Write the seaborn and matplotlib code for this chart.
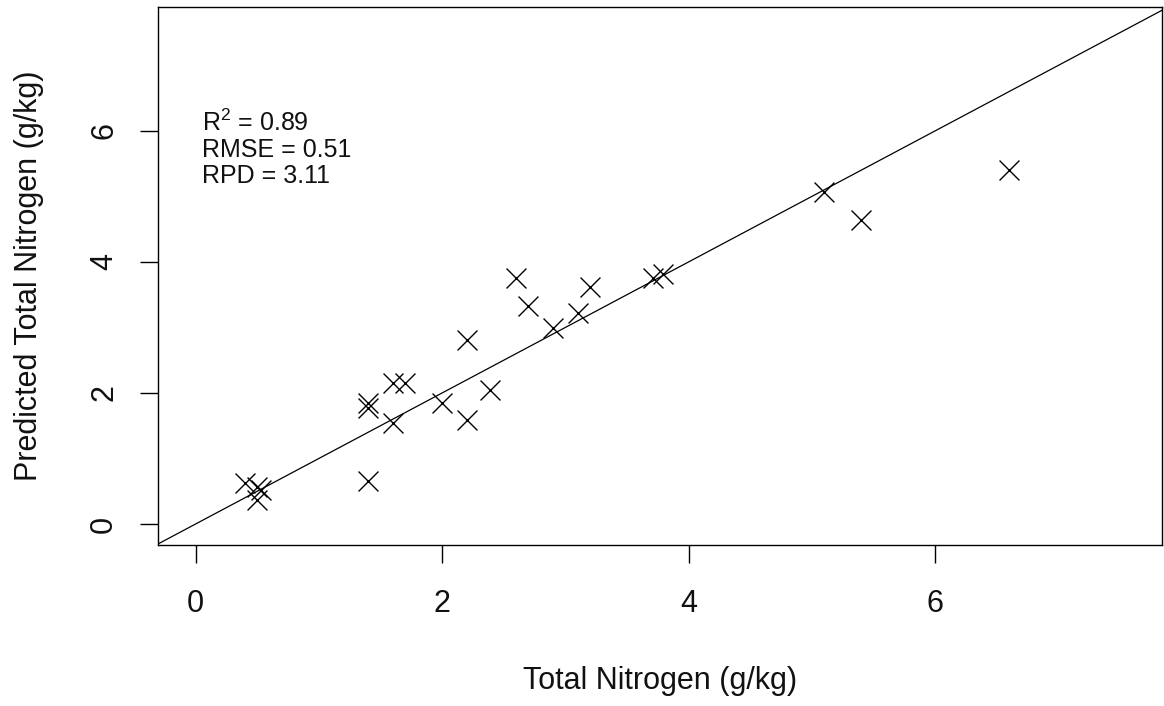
import matplotlib
matplotlib.use("Agg")
import matplotlib.pyplot as plt
import seaborn as sns
import pandas as pd

# ---- data ----
measured_tn = [0.40, 0.50, 0.53, 0.50, 1.40, 1.40, 1.40, 1.60, 1.70, 1.60,
               2.00, 2.20, 2.39, 2.20, 2.60, 2.70, 2.90, 3.10, 3.20, 3.71,
               3.79, 5.10, 5.40, 6.60]
predicted_tn = [0.62, 0.57, 0.52, 0.37, 0.65, 1.85, 1.77, 2.15, 2.15, 1.54,
                1.84, 1.58, 2.05, 2.81, 3.75, 3.32, 2.99, 3.22, 3.61, 3.76,
                3.82, 5.07, 4.64, 5.40]
x_ticks = [0, 2, 4, 6]
y_ticks = [0, 2, 4, 6]
stats_lines = ["R$^{2}$ = 0.89", "RMSE = 0.51", "RPD = 3.11"]
x_label = "Total Nitrogen (g/kg)"
y_label = "Predicted Total Nitrogen (g/kg)"

df = pd.DataFrame({"measured": measured_tn, "predicted": predicted_tn})

sns.set_theme(style="white")
plt.rcParams["font.family"] = ["Liberation Sans", "DejaVu Sans"]
plt.rcParams["mathtext.fontset"] = "custom"
plt.rcParams["mathtext.rm"] = "Liberation Sans"
plt.rcParams["mathtext.it"] = "Liberation Sans"
plt.rcParams["mathtext.default"] = "regular"

W, H = 1164, 706
fig = plt.figure(figsize=(W / 100, H / 100), dpi=100)
ax = fig.add_axes([157.7 / W, 1 - 545 / H, (1162 - 157.7) / W, (545 - 7) / H])

sns.scatterplot(data=df, x="measured", y="predicted", marker="x", s=205,
                color="black", linewidth=1.0, ax=ax, legend=False, zorder=3)
ax.axline((0, 0), slope=1, color="black", linewidth=0.9, zorder=2)

ax.set_xlim(-0.307, 7.84)
ax.set_ylim(-0.32, 7.89)
ax.set_xticks(x_ticks)
ax.set_yticks(y_ticks)
ax.set_xticklabels([str(t) for t in x_ticks])
ax.set_yticklabels([str(t) for t in y_ticks], rotation=90, va="center")

for s in ax.spines.values():
    s.set_visible(True)
    s.set_color("black")
    s.set_linewidth(1.0)

ax.tick_params(axis="both", which="major", direction="out", length=13.2,
               width=1.0, color="black", labelsize=22, labelcolor="#111111",
               bottom=True, left=True)
ax.tick_params(axis="x", pad=18.5)
ax.tick_params(axis="y", pad=14.5)

ax.set_xlabel("")
ax.set_ylabel("")
fig.text(660 / W, 1 - 689 / H, x_label, ha="center", va="baseline",
         fontsize=22, color="#111111")
fig.text(37 / W, 1 - 276 / H, y_label, ha="center", va="baseline",
         rotation=90, rotation_mode="anchor", fontsize=22, color="#111111")

text_x = 0.053
text_y = [6.005, 5.60, 5.21]
for txt, ty in zip(stats_lines, text_y):
    ax.text(text_x, ty, txt, ha="left", va="baseline", fontsize=18,
            color="#111111")

fig.savefig("out.png", dpi=100)
